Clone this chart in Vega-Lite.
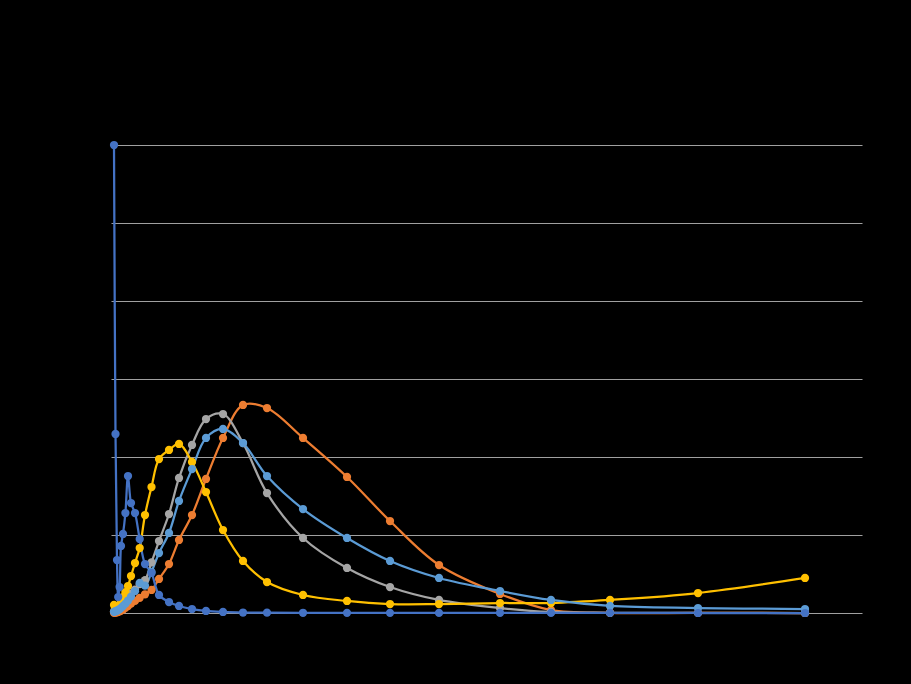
{
  "$schema": "https://vega.github.io/schema/vega-lite/v6.json",
  "width": 751,
  "height": 468,
  "autosize": {"type": "none"},
  "padding": {"left": 111, "top": 145, "right": 49, "bottom": 71},
  "background": "#000000",
  "config": {"view": {"stroke": null}},
  "data": {
    "values": [
      {"s": "Series2", "x": 3, "y": 0.02}, {"s": "Series2", "x": 4, "y": 0.04}, {"s": "Series2", "x": 5, "y": 0.06},
      {"s": "Series2", "x": 6, "y": 0.1}, {"s": "Series2", "x": 7.2, "y": 0.15}, {"s": "Series2", "x": 8.6, "y": 0.22},
      {"s": "Series2", "x": 10, "y": 0.32}, {"s": "Series2", "x": 12, "y": 0.45}, {"s": "Series2", "x": 14.4, "y": 0.65},
      {"s": "Series2", "x": 17, "y": 0.9}, {"s": "Series2", "x": 20, "y": 1.2}, {"s": "Series2", "x": 24, "y": 1.55},
      {"s": "Series2", "x": 28.7, "y": 1.95}, {"s": "Series2", "x": 34, "y": 2.4}, {"s": "Series2", "x": 40.5, "y": 2.95},
      {"s": "Series2", "x": 48, "y": 4.36}, {"s": "Series2", "x": 58, "y": 6.28}, {"s": "Series2", "x": 68, "y": 9.36},
      {"s": "Series2", "x": 81, "y": 12.56}, {"s": "Series2", "x": 95, "y": 17.18}, {"s": "Series2", "x": 112, "y": 22.44},
      {"s": "Series2", "x": 132, "y": 26.67}, {"s": "Series2", "x": 156, "y": 26.28}, {"s": "Series2", "x": 192, "y": 22.44},
      {"s": "Series2", "x": 236, "y": 17.44}, {"s": "Series2", "x": 279, "y": 11.79}, {"s": "Series2", "x": 328, "y": 6.15},
      {"s": "Series2", "x": 389, "y": 2.44}, {"s": "Series2", "x": 440, "y": 0.38}, {"s": "Series2", "x": 499, "y": 0.03},
      {"s": "Series2", "x": 587, "y": 0.01}, {"s": "Series2", "x": 694, "y": 0.0},

      {"s": "Series3", "x": 3, "y": 0.2}, {"s": "Series3", "x": 4, "y": 0.25}, {"s": "Series3", "x": 5, "y": 0.3},
      {"s": "Series3", "x": 6, "y": 0.35}, {"s": "Series3", "x": 7.2, "y": 0.45}, {"s": "Series3", "x": 8.6, "y": 0.6},
      {"s": "Series3", "x": 10, "y": 0.8}, {"s": "Series3", "x": 12, "y": 1.1}, {"s": "Series3", "x": 14.4, "y": 1.5},
      {"s": "Series3", "x": 17, "y": 2.0}, {"s": "Series3", "x": 20, "y": 2.5}, {"s": "Series3", "x": 24, "y": 3.0},
      {"s": "Series3", "x": 28.7, "y": 3.7}, {"s": "Series3", "x": 34, "y": 4.2}, {"s": "Series3", "x": 40.5, "y": 6.5},
      {"s": "Series3", "x": 48, "y": 9.23}, {"s": "Series3", "x": 58, "y": 12.69}, {"s": "Series3", "x": 68, "y": 17.31},
      {"s": "Series3", "x": 81, "y": 21.54}, {"s": "Series3", "x": 95, "y": 24.87}, {"s": "Series3", "x": 112, "y": 25.51},
      {"s": "Series3", "x": 132, "y": 21.79}, {"s": "Series3", "x": 156, "y": 15.38}, {"s": "Series3", "x": 192, "y": 9.62},
      {"s": "Series3", "x": 236, "y": 5.77}, {"s": "Series3", "x": 279, "y": 3.33}, {"s": "Series3", "x": 328, "y": 1.67},
      {"s": "Series3", "x": 389, "y": 0.64}, {"s": "Series3", "x": 440, "y": 0.13}, {"s": "Series3", "x": 499, "y": 0.03},
      {"s": "Series3", "x": 587, "y": 0.01}, {"s": "Series3", "x": 694, "y": 0.0},

      {"s": "Series4", "x": 3, "y": 1.03}, {"s": "Series4", "x": 4, "y": 0.77}, {"s": "Series4", "x": 5, "y": 0.51},
      {"s": "Series4", "x": 6, "y": 0.51}, {"s": "Series4", "x": 7.2, "y": 0.64}, {"s": "Series4", "x": 8.6, "y": 0.9},
      {"s": "Series4", "x": 10, "y": 1.41}, {"s": "Series4", "x": 12, "y": 2.05}, {"s": "Series4", "x": 14.4, "y": 2.69},
      {"s": "Series4", "x": 17, "y": 3.46}, {"s": "Series4", "x": 20, "y": 4.74}, {"s": "Series4", "x": 24, "y": 6.41},
      {"s": "Series4", "x": 28.7, "y": 8.33}, {"s": "Series4", "x": 34, "y": 12.56}, {"s": "Series4", "x": 40.5, "y": 16.15},
      {"s": "Series4", "x": 48, "y": 19.74}, {"s": "Series4", "x": 58, "y": 20.9}, {"s": "Series4", "x": 68, "y": 21.67},
      {"s": "Series4", "x": 81, "y": 19.36}, {"s": "Series4", "x": 95, "y": 15.51}, {"s": "Series4", "x": 112, "y": 10.64},
      {"s": "Series4", "x": 132, "y": 6.67}, {"s": "Series4", "x": 156, "y": 3.97}, {"s": "Series4", "x": 192, "y": 2.31},
      {"s": "Series4", "x": 236, "y": 1.54}, {"s": "Series4", "x": 279, "y": 1.15}, {"s": "Series4", "x": 328, "y": 1.15},
      {"s": "Series4", "x": 389, "y": 1.28}, {"s": "Series4", "x": 440, "y": 1.28}, {"s": "Series4", "x": 499, "y": 1.67},
      {"s": "Series4", "x": 587, "y": 2.56}, {"s": "Series4", "x": 694, "y": 4.49},

      {"s": "Series5", "x": 3, "y": 0.15}, {"s": "Series5", "x": 4, "y": 0.2}, {"s": "Series5", "x": 5, "y": 0.25},
      {"s": "Series5", "x": 6, "y": 0.3}, {"s": "Series5", "x": 7.2, "y": 0.38}, {"s": "Series5", "x": 8.6, "y": 0.5},
      {"s": "Series5", "x": 10, "y": 0.65}, {"s": "Series5", "x": 12, "y": 0.9}, {"s": "Series5", "x": 14.4, "y": 1.2},
      {"s": "Series5", "x": 17, "y": 1.6}, {"s": "Series5", "x": 20, "y": 2.1}, {"s": "Series5", "x": 24, "y": 2.8},
      {"s": "Series5", "x": 28.7, "y": 3.85}, {"s": "Series5", "x": 34, "y": 3.5}, {"s": "Series5", "x": 40.5, "y": 5.26},
      {"s": "Series5", "x": 48, "y": 7.69}, {"s": "Series5", "x": 58, "y": 10.26}, {"s": "Series5", "x": 68, "y": 14.36},
      {"s": "Series5", "x": 81, "y": 18.46}, {"s": "Series5", "x": 95, "y": 22.44}, {"s": "Series5", "x": 112, "y": 23.59},
      {"s": "Series5", "x": 132, "y": 21.79}, {"s": "Series5", "x": 156, "y": 17.56}, {"s": "Series5", "x": 192, "y": 13.33},
      {"s": "Series5", "x": 236, "y": 9.62}, {"s": "Series5", "x": 279, "y": 6.67}, {"s": "Series5", "x": 328, "y": 4.49},
      {"s": "Series5", "x": 389, "y": 2.82}, {"s": "Series5", "x": 440, "y": 1.67}, {"s": "Series5", "x": 499, "y": 0.9},
      {"s": "Series5", "x": 587, "y": 0.64}, {"s": "Series5", "x": 694, "y": 0.51},

      {"s": "Series1", "x": 3, "y": 60.0}, {"s": "Series1", "x": 4.5, "y": 22.95}, {"s": "Series1", "x": 6, "y": 6.79},
      {"s": "Series1", "x": 7.2, "y": 2.05}, {"s": "Series1", "x": 8.6, "y": 3.33}, {"s": "Series1", "x": 10, "y": 8.59},
      {"s": "Series1", "x": 12, "y": 10.13}, {"s": "Series1", "x": 14.4, "y": 12.82}, {"s": "Series1", "x": 17, "y": 17.56},
      {"s": "Series1", "x": 20, "y": 14.1}, {"s": "Series1", "x": 24, "y": 12.82}, {"s": "Series1", "x": 28.7, "y": 9.49},
      {"s": "Series1", "x": 34, "y": 6.28}, {"s": "Series1", "x": 40.5, "y": 5.13}, {"s": "Series1", "x": 48, "y": 2.31},
      {"s": "Series1", "x": 58, "y": 1.41}, {"s": "Series1", "x": 68, "y": 0.9}, {"s": "Series1", "x": 81, "y": 0.51},
      {"s": "Series1", "x": 95, "y": 0.26}, {"s": "Series1", "x": 112, "y": 0.13}, {"s": "Series1", "x": 132, "y": 0.06},
      {"s": "Series1", "x": 156, "y": 0.04}, {"s": "Series1", "x": 192, "y": 0.03}, {"s": "Series1", "x": 236, "y": 0.02},
      {"s": "Series1", "x": 279, "y": 0.02}, {"s": "Series1", "x": 328, "y": 0.01}, {"s": "Series1", "x": 389, "y": 0.01},
      {"s": "Series1", "x": 440, "y": 0.01}, {"s": "Series1", "x": 499, "y": 0.01}, {"s": "Series1", "x": 587, "y": 0.0},
      {"s": "Series1", "x": 694, "y": 0.0}
    ]
  },
  "encoding": {
    "x": {
      "field": "x",
      "type": "quantitative",
      "scale": {"domain": [0, 751], "nice": false, "zero": true},
      "axis": null
    },
    "y": {
      "field": "y",
      "type": "quantitative",
      "scale": {"domain": [0, 60], "nice": false},
      "axis": {
        "values": [0, 10, 20, 30, 40, 50, 60],
        "grid": true,
        "gridColor": "#a0a0a0",
        "gridWidth": 1,
        "domain": false,
        "ticks": false,
        "labelColor": "#000000",
        "title": null
      }
    },
    "color": {
      "field": "s",
      "type": "nominal",
      "scale": {
        "domain": ["Series1", "Series2", "Series3", "Series4", "Series5"],
        "range": ["#4472C4", "#ED7D31", "#A5A5A5", "#FFC000", "#5B9BD5"]
      },
      "legend": null
    }
  },
  "layer": [
    {"mark": {"type": "line", "interpolate": "catmull-rom", "strokeWidth": 2.25}},
    {"mark": {"type": "circle", "size": 68, "opacity": 1}}
  ]
}
